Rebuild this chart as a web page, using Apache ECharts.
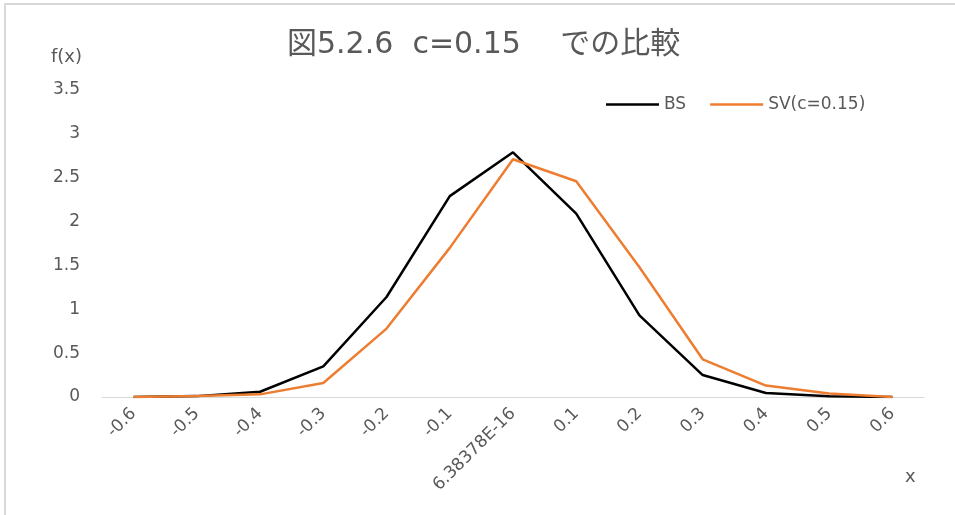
<!DOCTYPE html>
<html>
<head>
<meta charset="utf-8">
<script src="https://cdn.jsdelivr.net/npm/echarts@6/dist/echarts.min.js"></script>
<style>
  html, body { margin: 0; padding: 0; background: #fff; }
  #chart { width: 955px; height: 515px; }
</style>
</head>
<body>
<div id="chart"></div>
<script>
// x values (category labels as printed by the spreadsheet)
const categories = ['-0.6', '-0.5', '-0.4', '-0.3', '-0.2', '-0.1', '6.38378E-16',
                    '0.1', '0.2', '0.3', '0.4', '0.5', '0.6'];
// density under Black-Scholes
const bsValues = [0, 0.01, 0.06, 0.35, 1.14, 2.29, 2.79, 2.09, 0.93, 0.25, 0.045, 0.008, 0];
// density under stochastic volatility, c = 0.15
const svValues = [0, 0.01, 0.03, 0.16, 0.78, 1.70, 2.71, 2.46, 1.48, 0.43, 0.13, 0.04, 0];
const yTicks = { min: 0, max: 3.5, interval: 0.5 };

const font = '"DejaVu Sans", "Noto Sans CJK JP", sans-serif';
const grey = '#595959';

const chart = echarts.init(document.getElementById('chart'));
chart.setOption({
  backgroundColor: '#fff',
  animation: false,
  textStyle: { fontFamily: font },
  title: {
    text: '図5.2.6  c=0.15　 での比較',
    left: 282,
    top: 25,
    textStyle: { fontFamily: font, fontSize: 30, fontWeight: 'normal', color: grey }
  },
  legend: {
    left: 601,
    top: 91,
    icon: 'rect',
    itemWidth: 53,
    itemHeight: 2.5,
    itemGap: 24,
    textStyle: { fontFamily: font, fontSize: 17, color: grey },
    data: ['BS', 'SV(c=0.15)']
  },
  grid: { left: 102, right: 31, top: 90, bottom: 118 },
  xAxis: {
    type: 'category',
    data: categories,
    boundaryGap: true,
    axisLine: { lineStyle: { color: '#d9d9d9', width: 1 } },
    axisTick: { show: false },
    axisLabel: { rotate: 45, fontSize: 17, color: grey, margin: 14, interval: 0 },
    splitLine: { show: false }
  },
  yAxis: {
    type: 'value',
    min: yTicks.min,
    max: yTicks.max,
    interval: yTicks.interval,
    axisLine: { show: false },
    axisTick: { show: false },
    splitLine: { show: false },
    axisLabel: { fontSize: 17, color: grey, margin: 22 }
  },
  series: [
    {
      name: 'BS',
      type: 'line',
      data: bsValues,
      symbol: 'none',
      lineStyle: { color: '#000000', width: 2.5 },
      itemStyle: { color: '#000000' }
    },
    {
      name: 'SV(c=0.15)',
      type: 'line',
      data: svValues,
      symbol: 'none',
      lineStyle: { color: '#ED7D31', width: 2.5 },
      itemStyle: { color: '#ED7D31' }
    }
  ],
  graphic: [
    {
      type: 'rect',
      shape: { x: 5, y: 4, width: 960, height: 520 },
      style: { fill: 'none', stroke: '#d9d9d9', lineWidth: 2 },
      silent: true
    },
    {
      type: 'text',
      left: 51,
      top: 48,
      style: { text: 'f(x)', font: '18px ' + font, fill: grey }
    },
    {
      type: 'text',
      left: 905,
      top: 468,
      style: { text: 'x', font: '18px ' + font, fill: grey }
    }
  ]
});
</script>
</body>
</html>
